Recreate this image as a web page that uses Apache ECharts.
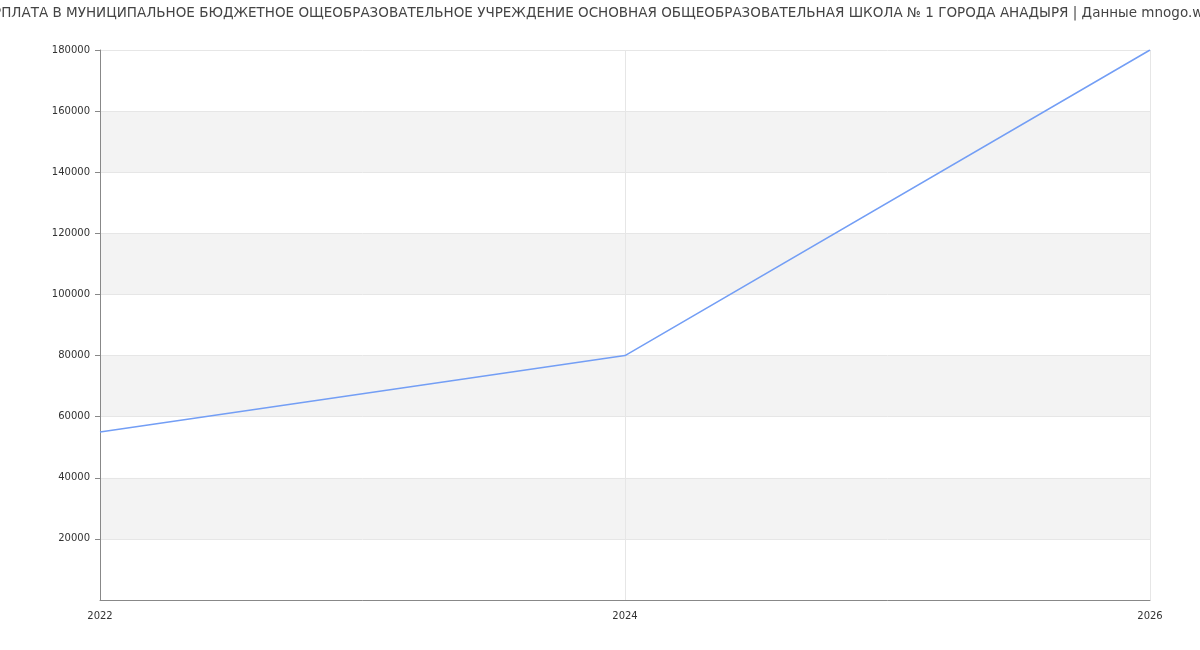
<!DOCTYPE html>
<html>
<head>
<meta charset="utf-8">
<script src="https://cdn.jsdelivr.net/npm/echarts@6/dist/echarts.min.js"></script>
<style>
html,body{margin:0;padding:0;background:#fff;}
#chart{width:1200px;height:650px;}
</style>
</head>
<body>
<div id="chart"></div>
<script>
const titleText = 'ЗАРПЛАТА В МУНИЦИПАЛЬНОЕ БЮДЖЕТНОЕ ОЩЕОБРАЗОВАТЕЛЬНОЕ УЧРЕЖДЕНИЕ ОСНОВНАЯ ОБЩЕОБРАЗОВАТЕЛЬНАЯ ШКОЛА № 1 ГОРОДА АНАДЫРЯ | Данные mnogo.work';
const years = [2022, 2024, 2026];
const salaries = [55000, 80000, 180000];

const chart = echarts.init(document.getElementById('chart'), null, {renderer: 'canvas'});
chart.setOption({
  animation: false,
  textStyle: {fontFamily: 'DejaVu Sans'},
  title: {
    text: titleText,
    left: 'center',
    top: 1,
    textStyle: {fontFamily: 'DejaVu Sans', fontSize: 13.5, fontWeight: 'normal', color: '#444'}
  },
  grid: {left: 100, right: 50, top: 50, bottom: 50, containLabel: false},
  xAxis: {
    type: 'value',
    min: 2022,
    max: 2026,
    interval: 2,
    axisLine: {show: true, lineStyle: {color: '#888'}},
    axisTick: {show: false},
    axisLabel: {color: '#333', fontSize: 10, margin: 11, formatter: v => String(v)},
    splitLine: {show: true, lineStyle: {color: '#e6e6e6'}}
  },
  yAxis: {
    type: 'value',
    min: 0,
    max: 180000,
    interval: 20000,
    axisLine: {show: true, lineStyle: {color: '#888'}},
    axisTick: {show: true, length: 5, lineStyle: {color: '#888'}},
    axisLabel: {color: '#333', fontSize: 10, margin: 10, showMinLabel: false, formatter: v => String(v)},
    splitLine: {show: true, lineStyle: {color: '#e6e6e6'}},
    splitArea: {show: true, areaStyle: {color: ['#ffffff', '#f3f3f3']}}
  },
  series: [{
    type: 'line',
    data: years.map((y, i) => [y, salaries[i]]),
    showSymbol: false,
    symbol: 'none',
    lineStyle: {color: '#739ef5', width: 1.5},
    itemStyle: {color: '#739ef5'}
  }]
});
</script>
</body>
</html>
